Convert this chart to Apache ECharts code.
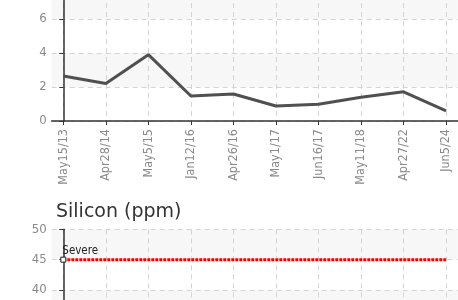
<!DOCTYPE html>
<html>
<head>
<meta charset="utf-8">
<script src="https://cdn.jsdelivr.net/npm/echarts@6/dist/echarts.min.js"></script>
<style>
  html, body { margin: 0; padding: 0; background: #fff; }
  #chart { width: 458px; height: 300px; }
</style>
</head>
<body>
<div id="chart"></div>
<script>
// sample dates (shared by both panels)
var categories = ['May15/13', 'Apr28/14', 'May5/15', 'Jan12/16', 'Apr26/16',
                  'May1/17', 'Jun16/17', 'May11/18', 'Apr27/22', 'Jun5/24'];
// upper panel values
var topValues = [2.65, 2.2, 3.9, 1.47, 1.59, 0.88, 0.98, 1.4, 1.72, 0.6];
var topTicks = [0, 2, 4, 6, 8];
// silicon panel
var siliconTicks = [0, 5, 10, 15, 20, 25, 30, 35, 40, 45, 50];
var siliconSevere = 45;

var idx = categories.map(function (c, i) { return i; });
var pad = 0.273; // plot padding on each side, in category units

var labelFont = "'Liberation Sans Narrow', 'DejaVu Sans Condensed', sans-serif";
var gridLine = { show: true, lineStyle: { color: '#d4d4d4', type: [5, 4], width: 1 } };

function xAxisFor(gridIndex, showLabels) {
  return {
    type: 'value', gridIndex: gridIndex,
    min: -pad, max: categories.length - 1 + pad,
    axisLine: { show: true, onZero: false, lineStyle: { color: '#333', width: 1.5 } },
    axisTick: { show: true, customValues: idx, length: 4, lineStyle: { color: '#333' } },
    axisLabel: {
      show: showLabels, customValues: idx, rotate: 90, margin: 8,
      color: '#8a8a8a', fontSize: 12.5, fontFamily: labelFont,
      formatter: function (v) { return categories[Math.round(v)]; }
    },
    splitLine: gridLine
  };
}

function yAxisFor(gridIndex, ticks) {
  return {
    type: 'value', gridIndex: gridIndex,
    min: ticks[0], max: ticks[ticks.length - 1], interval: ticks[1] - ticks[0],
    axisLine: { show: true, lineStyle: { color: '#333', width: 1.5 } },
    axisTick: { show: true, length: 4, lineStyle: { color: '#333' } },
    axisLabel: { color: '#8a8a8a', fontSize: 13, fontFamily: labelFont, margin: 5 },
    splitLine: gridLine,
    splitArea: { show: true, areaStyle: { color: ['#ffffff', '#f7f7f7'] } }
  };
}

var chart = echarts.init(document.getElementById('chart'));
chart.setOption({
  animation: false,
  title: {
    text: 'Silicon (ppm)', left: 51, top: 198,
    textStyle: { color: '#333', fontSize: 19, fontWeight: 'normal', fontFamily: 'DejaVu Sans' }
  },
  grid: [
    { left: 51.7, width: 406, top: -15, height: 136, outerBoundsMode: 'none', containLabel: false },
    { left: 51.7, width: 406, top: 229.3, height: 303.5, outerBoundsMode: 'none', containLabel: false }
  ],
  xAxis: [xAxisFor(0, true), xAxisFor(1, false)],
  yAxis: [yAxisFor(0, topTicks), yAxisFor(1, siliconTicks)],
  series: [
    {
      type: 'line', xAxisIndex: 0, yAxisIndex: 0,
      data: topValues.map(function (v, i) { return [i, v]; }),
      showSymbol: false,
      lineStyle: { color: '#505050', width: 3 }
    },
    {
      type: 'line', xAxisIndex: 1, yAxisIndex: 1,
      data: [
        {
          value: [0, siliconSevere],
          symbol: 'rect', symbolSize: 5,
          itemStyle: { color: '#fff', borderColor: '#222', borderWidth: 1 },
          label: {
            show: true, formatter: 'Severe', position: [2, -12],
            color: '#222', fontSize: 11.5, fontFamily: labelFont
          }
        },
        { value: [categories.length - 1, siliconSevere], symbol: 'none' }
      ],
      showAllSymbol: true,
      lineStyle: { color: '#ff0000', width: 3, type: [3, 1] }
    }
  ]
});
</script>
</body>
</html>
